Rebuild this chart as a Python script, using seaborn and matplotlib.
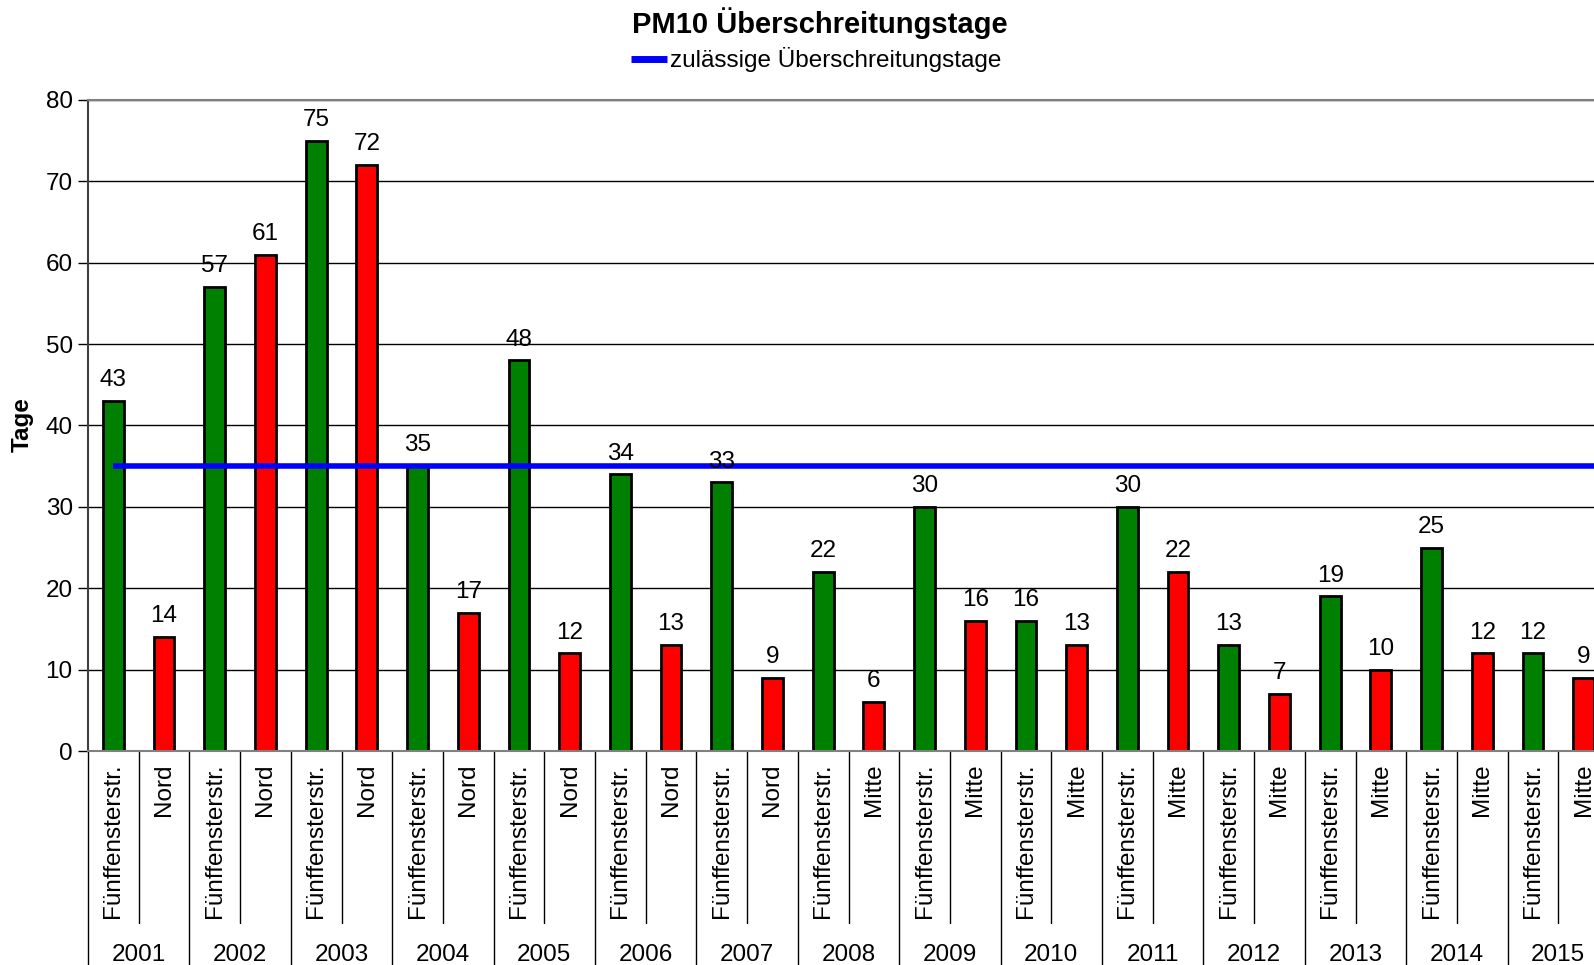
import pandas as pd
import seaborn as sns
import matplotlib.pyplot as plt
from matplotlib.lines import Line2D

# Daten
years = ["2001", "2002", "2003", "2004", "2005", "2006", "2007", "2008",
         "2009", "2010", "2011", "2012", "2013", "2014", "2015"]
stations = ["Fünffensterstr.", "Nord"] * 7 + ["Fünffensterstr.", "Mitte"] * 8
days = [43, 14, 57, 61, 75, 72, 35, 17, 48, 12, 34, 13, 33, 9, 22,
        6, 30, 16, 16, 13, 30, 22, 13, 7, 19, 10, 25, 12, 12, 9]
limit_days = 35

df = pd.DataFrame({
    "pos": range(len(days)),
    "station": stations,
    "tage": days,
})

sns.set_style("white")
plt.rcParams["font.family"] = ["Liberation Sans", "DejaVu Sans"]
plt.rcParams["font.size"] = 17.5
plt.rcParams["text.color"] = "black"
plt.rcParams["xtick.color"] = "black"
plt.rcParams["ytick.color"] = "black"

fig = plt.figure(figsize=(15.94, 9.65), dpi=100)
ax = fig.add_axes([88 / 1594, 214 / 965, 1521 / 1594, 651 / 965])

palette = {"Fünffensterstr.": "#008000", "Nord": "#FF0000", "Mitte": "#FF0000"}
sns.barplot(data=df, x="pos", y="tage", hue="station", palette=palette,
            width=0.41, edgecolor="black", linewidth=2, saturation=1,
            legend=False, ax=ax)

for cont in ax.containers:
    ax.bar_label(cont, padding=7, fontsize=17.5, color="black")

# Grenzwert-Linie (läuft über den rechten Rand hinaus weiter)
limit_x = list(df["pos"]) + [len(days)]
sns.lineplot(x=limit_x, y=[limit_days] * len(limit_x), color="#0000FF",
             linewidth=4, solid_capstyle="butt", ax=ax)

ax.set_ylim(0, 80)
ax.set_xlim(-0.5, len(days) - 0.5)
ax.set_yticks(range(0, 81, 10))
ax.yaxis.grid(True, color="black", linewidth=1)
ax.set_axisbelow(True)
ax.tick_params(axis="y", left=True, length=7, width=1, color="black",
               labelsize=17.5, pad=4)
ax.tick_params(axis="x", bottom=False, length=0, pad=9, labelsize=17.5)
ax.set_xticks(range(len(days)))
ax.set_xticklabels(stations, rotation=90)
ax.set_xlabel("")
ax.set_ylabel("")

ax.spines["top"].set_color("#808080")
ax.spines["bottom"].set_color("#808080")
ax.spines["left"].set_color("#404040")
ax.spines["right"].set_visible(False)
for s in ["top", "bottom", "left"]:
    ax.spines[s].set_linewidth(1.5)

# Kategorie-Trennlinien und Jahre
trans = ax.get_xaxis_transform()
for i in range(len(days) + 1):
    x = i - 0.5
    if i % 2 == 0:
        ax.plot([x, x], [0, -0.4], color="black", lw=1, transform=trans, clip_on=False)
    else:
        ax.plot([x, x], [0, -0.264], color="black", lw=1, transform=trans, clip_on=False)
for k, yr in enumerate(years):
    ax.text(2 * k + 0.5, -0.314, yr, transform=trans, ha="center", va="center",
            fontsize=17.5)

fig.text(22 / 1594, 1 - 425 / 965, "Tage", rotation=90, ha="center", va="center",
         fontsize=17.5, fontweight="bold")
fig.text(820 / 1594, 1 - 23 / 965, "PM10 Überschreitungstage", ha="center",
         va="center", fontsize=21, fontweight="bold")

handle = Line2D([], [], color="#0000FF", linewidth=5, solid_capstyle="butt")
fig.legend([handle], ["zulässige Überschreitungstage"], loc="center",
           bbox_to_anchor=(816 / 1594, 1 - 60 / 965), frameon=False,
           handlelength=1.5, handletextpad=0.1, fontsize=17.5,
           borderpad=0, borderaxespad=0)

fig.savefig("out.png", dpi=100)
